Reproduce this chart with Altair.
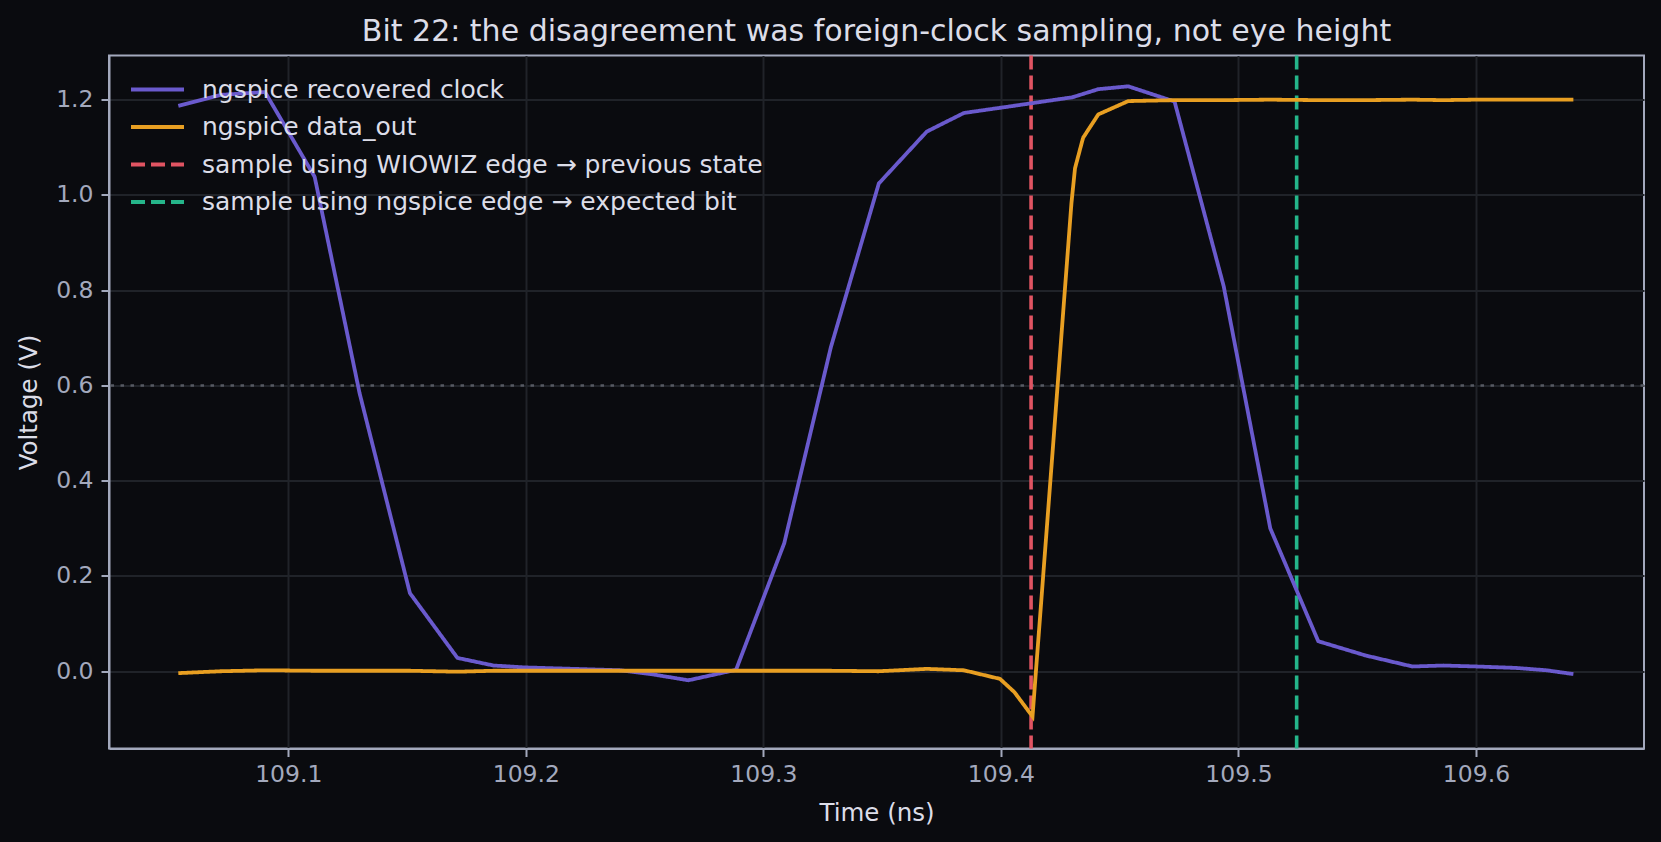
import altair as alt
import pandas as pd
import jinja2

# ---- data ----
clock_t = [109.0537, 109.0715, 109.0902, 109.1111, 109.1300, 109.1512, 109.1712, 109.1864,
           109.1997, 109.2200, 109.2400, 109.2540, 109.2684, 109.2885, 109.3088, 109.3284,
           109.3486, 109.3688, 109.3844, 109.4040, 109.4301, 109.4410, 109.4536, 109.4731,
           109.4938, 109.5134, 109.5336, 109.5536, 109.5732, 109.5862, 109.6000, 109.6167,
           109.6297, 109.6410]
clock_v = [1.187, 1.210, 1.216, 1.038, 0.584, 0.164, 0.028, 0.012,
           0.008, 0.005, 0.002, -0.007, -0.019, 0.003, 0.269, 0.680,
           1.024, 1.133, 1.172, 1.186, 1.205, 1.222, 1.228, 1.196,
           0.808, 0.300, 0.063, 0.033, 0.010, 0.012, 0.010, 0.007,
           0.002, -0.006]

data_t = [109.0537, 109.0715, 109.0902, 109.1111, 109.1300, 109.1512, 109.1712, 109.1864,
          109.1997, 109.2200, 109.2400, 109.2540, 109.2684, 109.2885, 109.3088, 109.3284,
          109.3486, 109.3688, 109.3844, 109.3996, 109.4057, 109.4133, 109.4297, 109.4312,
          109.4346, 109.4410, 109.4536, 109.4731, 109.4938, 109.5134, 109.5336, 109.5536,
          109.5732, 109.5862, 109.6000, 109.6167, 109.6297, 109.6410]
data_v = [-0.004, 0.000, 0.002, 0.001, 0.001, 0.001, -0.001, 0.001,
          0.001, 0.001, 0.001, 0.001, 0.001, 0.001, 0.001, 0.001,
          0.000, 0.005, 0.002, -0.016, -0.044, -0.095, 0.983, 1.056,
          1.120, 1.169, 1.197, 1.199, 1.199, 1.200, 1.199, 1.199,
          1.200, 1.199, 1.200, 1.200, 1.200, 1.200]

sample_wiowiz_t = 109.4127
sample_ngspice_t = 109.5245
threshold_v = 0.6

series_names = ["ngspice recovered clock", "ngspice data_out",
                "sample using WIOWIZ edge \u2192 previous state",
                "sample using ngspice edge \u2192 expected bit"]
series_colors = ["#6a5acd", "#e89f22", "#e05462", "#25b58a"]
series_dash = [[1, 0], [1, 0], [14, 6], [14, 6]]

x_ticks = [109.1, 109.2, 109.3, 109.4, 109.5, 109.6]
y_ticks = [0.0, 0.2, 0.4, 0.6, 0.8, 1.0, 1.2]

# ---- tables ----
lines_df = pd.concat([
    pd.DataFrame({"t": clock_t, "v": clock_v, "series": series_names[0],
                  "i": range(len(clock_t))}),
    pd.DataFrame({"t": data_t, "v": data_v, "series": series_names[1],
                  "i": range(len(data_t))}),
], ignore_index=True)
rules_df = pd.DataFrame({"t": [sample_wiowiz_t, sample_ngspice_t],
                         "series": [series_names[2], series_names[3]]})
thr_df = pd.DataFrame({"v": [threshold_v]})

FONT = "DejaVu Sans"
AX = "#a3a9bd"
TXT = "#dcdde8"
BG = "#0a0b0f"

x_scale = alt.Scale(domain=[109.02452, 109.67073], nice=False, zero=False)
y_scale = alt.Scale(domain=[-0.1622, 1.2927], nice=False, zero=False)

color = alt.Color("series:N", scale=alt.Scale(domain=series_names, range=series_colors),
                  legend=alt.Legend(title=None))
dash = alt.StrokeDash("series:N", scale=alt.Scale(domain=series_names, range=series_dash),
                      legend=alt.Legend(title=None))

x_axis = alt.Axis(values=x_ticks, format=".1f", title="Time (ns)")
y_axis = alt.Axis(values=y_ticks, format=".1f", title="Voltage (V)")

thr = alt.Chart(thr_df).mark_rule(color="#565a63", strokeWidth=2.6, strokeDash=[3.5, 6.5]).encode(
    y=alt.Y("v:Q", scale=y_scale, axis=y_axis)
)

rules = alt.Chart(rules_df).mark_rule(strokeWidth=3.6).encode(
    x=alt.X("t:Q", scale=x_scale, axis=x_axis),
    color=color,
    strokeDash=dash,
)

lines = alt.Chart(lines_df).mark_line(strokeWidth=3.8, strokeJoin="miter").encode(
    x=alt.X("t:Q", scale=x_scale, axis=x_axis),
    y=alt.Y("v:Q", scale=y_scale, axis=y_axis),
    color=color,
    strokeDash=dash,
    order="i:Q",
    detail="series:N",
)

chart = alt.layer(thr, rules, lines).properties(
    width=1535,
    height=693,
    background=BG,
    autosize=alt.AutoSizeParams(type="none"),
    padding={"left": 101, "top": 47.5, "right": 9, "bottom": 85},
    title=alt.TitleParams(
        "Bit 22: the disagreement was foreign-clock sampling, not eye height",
        anchor="middle", frame="group", fontSize=30, font=FONT,
        fontWeight="normal", color=TXT, baseline="alphabetic", offset=9, dy=26,
    ),
).configure_view(
    stroke=AX, strokeWidth=2, fill=BG
).configure_axis(
    labelFont=FONT, labelFontSize=23.5, labelColor=AX,
    titleFont=FONT, titleFontSize=24.5, titleColor=TXT, titleFontWeight="normal",
    tickColor=AX, tickSize=8, tickWidth=2,
    domainColor=AX, domainWidth=2,
    gridColor="#202329", gridWidth=2,
).configure_axisX(
    labelPadding=6, titlePadding=15,
).configure_axisY(
    labelPadding=8, titlePadding=14,
).configure_legend(
    orient="none", legendX=20, legendY=19,
    symbolType="stroke", symbolSize=2809, symbolStrokeWidth=3.8,
    labelFont=FONT, labelFontSize=25, labelColor=TXT, labelLimit=0,
    labelOffset=16, clipHeight=30, rowPadding=7.5, padding=0,
    fillColor="transparent", strokeColor="transparent",
)

# page template: same CDN scripts as the standard one, dark page background
PAGE = jinja2.Template("""<!DOCTYPE html>
<html>
<head>
  <meta charset="utf-8">
  <style>html, body { background: """ + BG + """; }</style>
  <script type="text/javascript" src="{{ base_url }}/vega@{{ vega_version }}"></script>
  <script type="text/javascript" src="{{ base_url }}/vega-lite@{{ vegalite_version }}"></script>
  <script type="text/javascript" src="{{ base_url }}/vega-embed@{{ vegaembed_version }}"></script>
</head>
<body>
  <div id="{{ output_div }}"></div>
  <script type="text/javascript">
    vegaEmbed("#{{ output_div }}", {{ spec }}, {{ embed_options }}).catch(console.error);
  </script>
</body>
</html>
""")

chart.save("out.html", embed_options={"renderer": "svg", "actions": False}, template=PAGE)
